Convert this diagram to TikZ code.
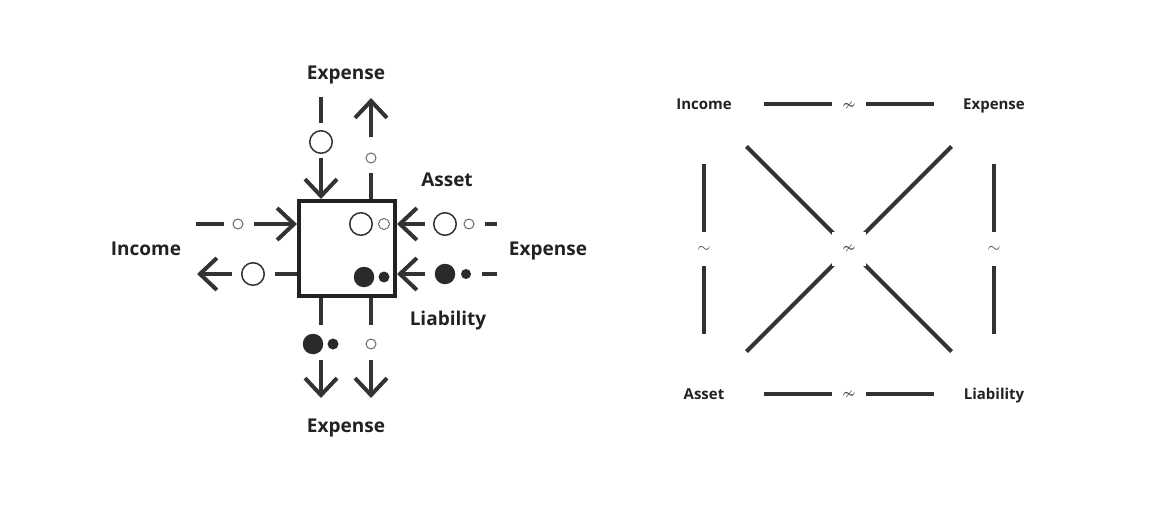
\documentclass[tikz,border=0pt]{standalone}
\usepackage{fontspec}
\usepackage{amssymb}
\setmainfont{Open Sans}
\usetikzlibrary{arrows.meta}
\definecolor{ink}{HTML}{333333}
\definecolor{boxink}{HTML}{222222}
\definecolor{dotink}{HTML}{2A2A2A}
\definecolor{thin}{HTML}{6A6A6A}
\definecolor{relgray}{HTML}{444444}
\newcommand{\relsym}[1]{\scalebox{1.65}{$#1$}}
\begin{document}
\begin{tikzpicture}[x=1pt,y=-1pt,
  flow/.style={line width=4pt, draw=ink},
  arr/.style={flow, -{Straight Barb[length=17pt,width=32pt,line width=4pt]}},
  bigo/.style={circle, draw=ink, line width=1.5pt, minimum size=22.5pt, inner sep=0pt},
  smallo/.style={circle, draw=thin, line width=1pt, minimum size=10pt, inner sep=0pt},
  bigf/.style={circle, fill=dotink, minimum size=20.5pt, inner sep=0pt},
  smallf/.style={circle, fill=dotink, minimum size=11pt, inner sep=0pt},
  lbl/.style={font=\fontsize{19}{21}\selectfont\bfseries, text=boxink, inner sep=0pt, anchor=base},
  rlbl/.style={font=\fontsize{15}{17}\selectfont\bfseries, text=boxink, inner sep=0pt, text height=10.7pt, text depth=0pt},
  rel/.style={line width=4pt, draw=ink, shorten <=60pt, shorten >=60pt},
  gap/.style={fill=white, inner sep=0pt, minimum size=34pt, text=relgray}
]
\useasboundingbox (0,0) rectangle (1172,516);

% ---------- left diagram ----------
\node[draw=boxink, line width=4pt, minimum width=96pt, minimum height=95pt, inner sep=0pt] (box) at (347,248.5) {};

\node[lbl] (expT) at (346,79.5) {Expense};
\node[lbl] (asset) at (447,186.5) {Asset};
\node[lbl] (expR) at (548,255.5) {Expense};
\node[lbl] (liab) at (448,325) {Liability};
\node[lbl] (expB) at (346,432) {Expense};
\node[lbl] (inc) at (146,255.5) {Income};

% circles inside box
\node[bigo] (in1) at (361,224) {};
\node[smallo, minimum size=11pt] (in2) at (384,224) {};
\node[bigf] (in3) at (364,277) {};
\node[smallf] (in4) at (384,277) {};

% flow 1: top-left, into box
\coordinate (f1a) at (321,97);
\node[bigo] (c1) at (321,142) {};
\draw[flow, shorten >=19pt] (f1a) -- (c1.center);
\draw[arr, shorten <=16pt] (c1.center) -- (c1 |- box.north);

% flow 2: top-right, out of box
\coordinate (f2b) at (371,98);
\node[smallo] (s2) at (371,158) {};
\draw[flow, shorten >=15pt] (s2 |- box.north) -- (s2.center);
\draw[arr, shorten <=21pt] (s2.center) -- (f2b);

% flow 3: left-top, into box
\coordinate (f3a) at (196,224);
\node[smallo] (s3) at (238,224) {};
\draw[flow, shorten >=14pt] (f3a) -- (s3.center);
\draw[arr, shorten <=16pt] (s3.center) -- (s3 -| box.west);

% flow 4: left-bottom, out of box
\coordinate (f4b) at (197,274);
\node[bigo] (b4) at (253,274) {};
\draw[flow, shorten >=22pt] (b4 -| box.west) -- (b4.center);
\draw[arr, shorten <=21pt] (b4.center) -- (f4b);

% flow 5: right-top, into box
\coordinate (f5a) at (497,224);
\node[bigo] (b5) at (445,224) {};
\node[smallo] (s5) at (469,224) {};
\draw[flow, shorten >=16pt] (f5a) -- (s5.center);
\draw[arr, shorten <=20pt] (b5.center) -- (b5 -| box.east);

% flow 6: right-bottom, into box
\coordinate (f6a) at (497,274);
\node[bigf] (b6) at (445,274) {};
\node[smallf, minimum size=10pt] (s6) at (466,274) {};
\draw[flow, shorten >=16pt] (f6a) -- (s6.center);
\draw[arr, shorten <=20pt] (b6.center) -- (b6 -| box.east);

% flow 7: bottom-left, out of box
\coordinate (p7) at (321,344);
\coordinate (f7b) at (321,398);
\node[bigf] (b7) at (313,344) {};
\node[smallf] (s7) at (333,344) {};
\draw[flow, shorten >=19pt] (p7 |- box.south) -- (p7);
\draw[arr, shorten <=16pt] (p7) -- (f7b);

% flow 8: bottom-right, out of box
\coordinate (f8b) at (371,398);
\node[smallo] (s8) at (371,344) {};
\draw[flow, shorten >=19pt] (s8 |- box.south) -- (s8.center);
\draw[arr, shorten <=16pt] (s8.center) -- (f8b);

% ---------- right diagram ----------
\node[rlbl] (rinc) at (704,104) {Income};
\node[rlbl] (rexp) at (994,104) {Expense};
\node[rlbl] (rass) at (704,394) {Asset};
\node[rlbl] (rlia) at (994,394) {Liability};

\draw[rel] (rinc.center) -- node[gap, yshift=-2pt]{\relsym{\nsim}} (rexp.center);
\draw[rel] (rass.center) -- node[gap, yshift=-1pt]{\relsym{\nsim}} (rlia.center);
\draw[rel] (rinc.center) -- node[gap]{\relsym{\sim}} (rass.center);
\draw[rel] (rexp.center) -- node[gap]{\relsym{\sim}} (rlia.center);
\draw[rel] (rexp.center) -- node[gap]{} (rass.center);
\draw[rel] (rinc.center) -- node[gap]{\relsym{\nsim}} (rlia.center);
\end{tikzpicture}
\end{document}
